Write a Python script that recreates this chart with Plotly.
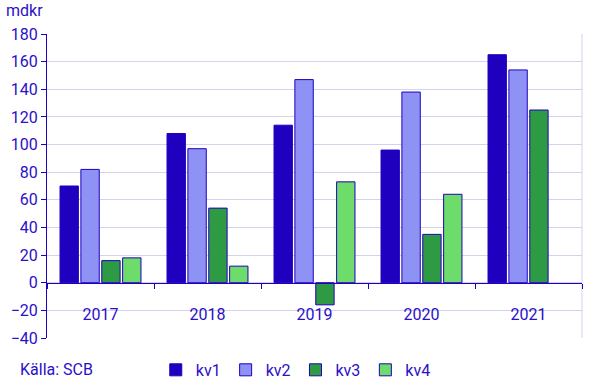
import plotly.graph_objects as go

years = ["2017", "2018", "2019", "2020", "2021"]
kv1 = [70, 108, 114, 96, 165]
kv2 = [82, 97, 147, 138, 154]
kv3 = [16, 54, -16, 35, 125]
kv4 = [18, 12, 73, 64, None]
series_names = ["kv1", "kv2", "kv3", "kv4"]
colors = ["#1e00be", "#8f92f5", "#2f9a44", "#6edc6a"]
y_ticks = [-40, -20, 0, 20, 40, 60, 80, 100, 120, 140, 160, 180]

TXT = "#2a10c8"
LINE = "#1e00be"
GRID = "#d4d2f0"
FONT = "Roboto"
FS = 16

fig = go.Figure()
for name, vals, col in zip(series_names, [kv1, kv2, kv3, kv4], colors):
    fig.add_trace(go.Bar(
        x=years, y=vals, name=name,
        marker=dict(color=col, line=dict(color=LINE, width=1)),
    ))

fig.update_layout(
    width=601, height=391,
    margin=dict(l=47, r=19, t=34, b=53, autoexpand=False),
    plot_bgcolor="white", paper_bgcolor="white",
    barmode="group", bargap=0.22, bargroupgap=0.12,
    font=dict(family=FONT, size=FS, color=TXT),
    showlegend=True,
    legend=dict(orientation="h", x=0.465, xanchor="center", y=-0.105, yanchor="middle",
                font=dict(size=FS, color=TXT), itemwidth=30, traceorder="normal"),
    xaxis=dict(
        type="category", anchor="free", position=40/220, automargin=False,
        showline=True, linecolor=LINE, linewidth=1,
        ticks="outside", ticklen=5, tickcolor=LINE, tickson="boundaries",
        showgrid=False, ticklabelstandoff=17,
        tickfont=dict(size=FS, color=TXT),
    ),
    yaxis=dict(
        range=[-40, 180], tickvals=y_ticks, showgrid=True, gridcolor=GRID, gridwidth=1,
        zeroline=False, showline=True, linecolor=LINE, linewidth=1, automargin=False,
        ticks="outside", ticklen=5, tickcolor=LINE,
        tickfont=dict(size=FS, color=TXT),
    ),
    shapes=[dict(type="line", xref="paper", yref="paper", x0=1, x1=1, y0=0, y1=1,
                 line=dict(color=GRID, width=1), layer="below")],
    annotations=[
        dict(text="mdkr", xref="paper", yref="paper", x=-0.080, y=1.076,
             xanchor="left", yanchor="middle", showarrow=False,
             font=dict(size=FS, color=TXT)),
        dict(text="Källa: SCB", xref="paper", yref="paper", x=-0.054, y=-0.105,
             xanchor="left", yanchor="middle", showarrow=False,
             font=dict(size=FS, color=TXT)),
    ],
)

fig.write_html("out.html", config={"displayModeBar": False},
               post_script="document.body.style.margin='0px';")
